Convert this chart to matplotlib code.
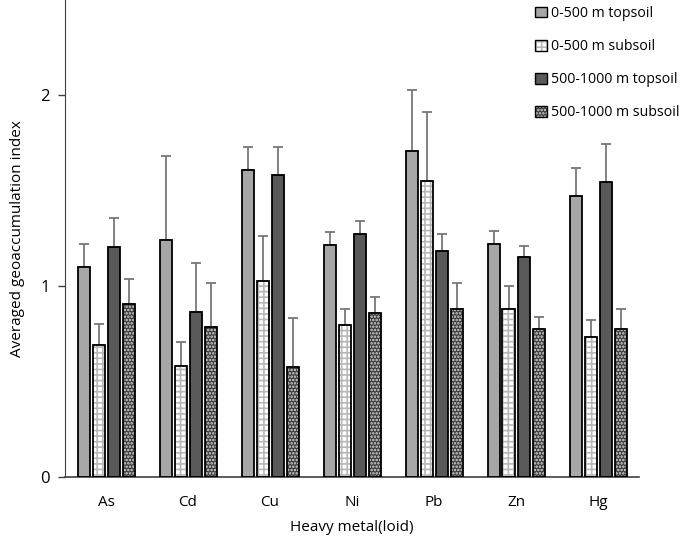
import numpy as np
import matplotlib
matplotlib.use('Agg')
import matplotlib.pyplot as plt
from matplotlib.patches import Patch
from matplotlib.legend_handler import HandlerTuple

plt.rcParams['font.family'] = ['Open Sans', 'DejaVu Sans']

metals = ['As', 'Cd', 'Cu', 'Ni', 'Pb', 'Zn', 'Hg']
labels = ['0-500 m topsoil', '0-500 m subsoil', '500-1000 m topsoil', '500-1000 m subsoil']

# mean values
top_0_500 = [1.10, 1.24, 1.61, 1.215, 1.71, 1.22, 1.475]
sub_0_500 = [0.69, 0.58, 1.025, 0.795, 1.55, 0.88, 0.735]
top_500_1000 = [1.205, 0.865, 1.585, 1.275, 1.185, 1.155, 1.545]
sub_500_1000 = [0.905, 0.785, 0.577, 0.858, 0.878, 0.776, 0.778]

# upper end of error bars
top_0_500_hi = [1.22, 1.68, 1.73, 1.283, 2.03, 1.29, 1.617]
sub_0_500_hi = [0.80, 0.708, 1.264, 0.881, 1.912, 1.00, 0.822]
top_500_1000_hi = [1.36, 1.121, 1.731, 1.344, 1.276, 1.21, 1.746]
sub_500_1000_hi = [1.037, 1.019, 0.834, 0.946, 1.016, 0.839, 0.879]

means = [top_0_500, sub_0_500, top_500_1000, sub_500_1000]
highs = [top_0_500_hi, sub_0_500_hi, top_500_1000_hi, sub_500_1000_hi]

faces = ['#a6a6a6', 'white', '#595959', '#3c3c3c']
hatches = [None, '+++', None, '.....']
hatch_cols = [None, '#b8b8b8', None, '#d8d8d8']

fig = plt.figure(figsize=(6.85, 5.38), dpi=100)
ax = fig.add_axes([65/685, 61/538, 574/685, 477/538])

x = np.arange(len(metals))
step = 15/82
width = 12/82
plt.rcParams['hatch.linewidth'] = 1.2

for k in range(4):
    pos = x + (k - 1.5) * step
    m = np.array(means[k])
    err = np.array(highs[k]) - m
    if hatches[k]:
        ax.bar(pos, m, width, color=faces[k], edgecolor=hatch_cols[k],
               hatch=hatches[k], linewidth=0, zorder=2)
        ax.bar(pos, m, width, fill=False, edgecolor='black', linewidth=1.3, zorder=3)
    else:
        ax.bar(pos, m, width, color=faces[k], edgecolor='black', linewidth=1.3, zorder=3)
    ax.errorbar(pos, m, yerr=[np.zeros_like(err), err], fmt='none',
                ecolor='#777777', elinewidth=1.3, capsize=3.3, capthick=1.3, zorder=1)

# legend proxies: pattern patch under a black outline
handles = []
for k in range(4):
    outline = Patch(fill=False, edgecolor='black', linewidth=1)
    if hatches[k]:
        inner = Patch(facecolor=faces[k], edgecolor=hatch_cols[k], hatch=hatches[k], linewidth=0)
    else:
        inner = Patch(facecolor=faces[k], edgecolor='none')
    handles.append((inner, outline))

leg = fig.legend(handles, labels, loc='upper left', bbox_to_anchor=(524/685, 1.01),
                 frameon=False, fontsize=10.2, handlelength=0.8, handleheight=0.8,
                 handletextpad=0.3, labelspacing=1.28, borderpad=0.3,
                 handler_map={tuple: HandlerTuple(ndivide=1, pad=0)})

ax.set_xlim(-0.5, 6.5)
ax.set_ylim(0, 2.5)
ax.set_xticks(x)
ax.set_xticklabels(metals, fontsize=11)
ax.set_yticks([0, 1, 2])
ax.set_yticklabels(['0', '1', '2'], fontsize=12)
ax.tick_params(axis='x', length=0, pad=13)
ax.tick_params(axis='y', length=5, width=1, color='#404040', pad=6)
ax.spines['top'].set_visible(False)
ax.spines['right'].set_visible(False)
ax.spines['left'].set_color('#404040')
ax.spines['bottom'].set_color('#404040')
ax.spines['bottom'].set_linewidth(1.2)

ax.set_ylabel('Averaged geoaccumulation index', fontsize=11, labelpad=11)
ax.set_xlabel('Heavy metal(loid)', fontsize=11, labelpad=7)

fig.savefig('out.png', dpi=100)
